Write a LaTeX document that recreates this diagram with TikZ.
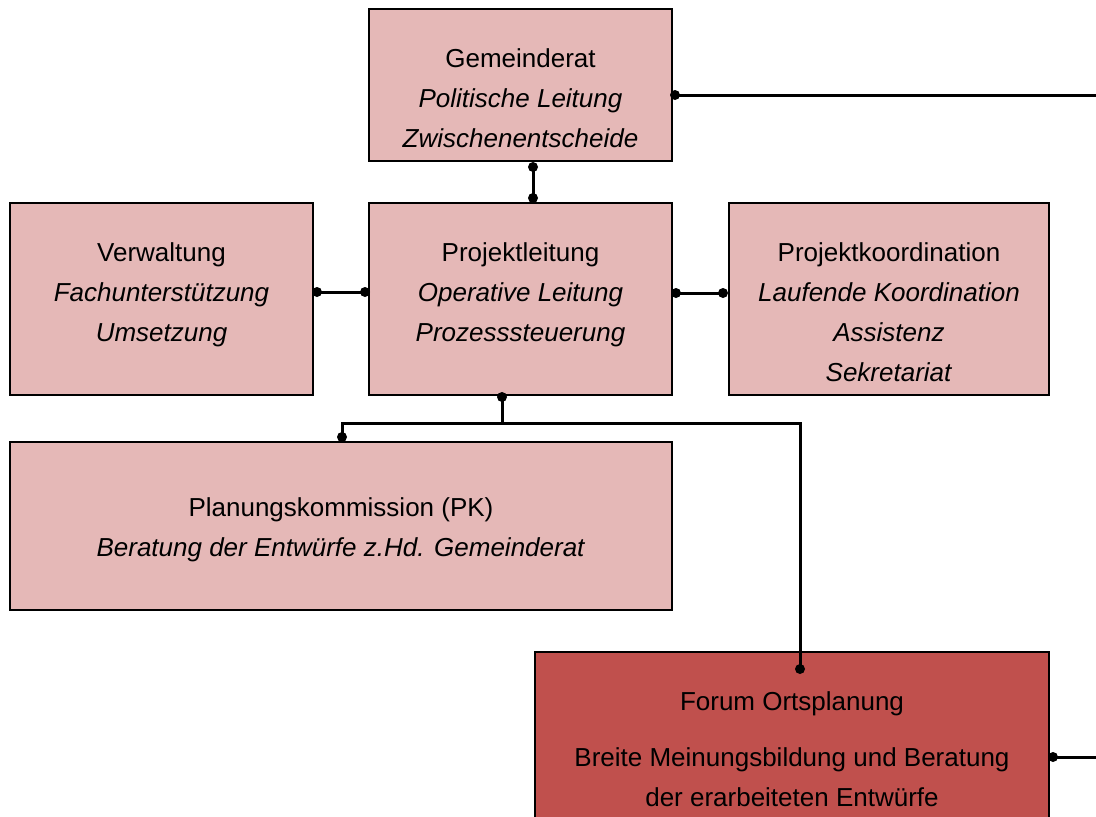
\documentclass[tikz,border=0pt]{standalone}
\usepackage{fontspec}
\setmainfont{Liberation Sans}
\definecolor{pinkbox}{HTML}{E5B8B7}
\definecolor{forumred}{HTML}{C0504D}
\begin{document}
\begin{tikzpicture}[x=1pt,y=-1pt,
  box/.style={draw=black,line width=2.7pt,fill=pinkbox,anchor=north west,inner sep=0pt,outer sep=0pt},
  txt/.style={align=center,inner sep=0pt,font=\fontsize{26}{40}\selectfont},
  conn/.style={line width=3pt},
  dotc/.style={fill=black}]
\useasboundingbox (0,0) rectangle (1096,817);
\clip (0,0) rectangle (1096,817);
% boxes
\node[box,minimum width=303pt,minimum height=152pt] (gr) at (369,9) {};
\node[box,minimum width=303pt,minimum height=192pt] (pl) at (369,203) {};
\node[box,minimum width=303pt,minimum height=192pt] (vw) at (10,203) {};
\node[box,minimum width=320pt,minimum height=192pt] (pk) at (729,203) {};
\node[box,minimum width=662pt,minimum height=168pt] (kom) at (10,442) {};
\node[box,fill=forumred,minimum width=514pt,minimum height=190pt] (fo) at (535,652) {};
% texts
\node[txt] (grt) at (520.5,98) {Gemeinderat\\\textit{Politische Leitung}\\\textit{Zwischenentscheide}};
\node[txt] (plt) at (520.5,295) {Projektleitung\\\textit{Operative Leitung}\\\textit{Prozesssteuerung}};
\node[txt] (vwt) at (161.5,295) {Verwaltung\\\textit{Fachunterstützung}\\\textit{Umsetzung}};
\node[txt] (pkt) at (889,312) {Projektkoordination\\\textit{Laufende Koordination}\\\textit{Assistenz}\\\textit{Sekretariat}};
\node[txt] (komt) at (341,530) {Planungskommission (PK)\\\textit{Beratung der Entwürfe z.Hd. Gemeinderat}};
\node[txt] (fot1) at (792,704) {Forum Ortsplanung};
\node[txt] (fot2) at (792,777) {Breite Meinungsbildung und Beratung\\der erarbeiteten Entwürfe};
% connector points
\coordinate (g1) at ([xshift=3pt,yshift=-86pt]gr.north east);
\coordinate (gE) at (1096,95);
\coordinate (g2) at ([xshift=12.5pt,yshift=-6pt]gr.south);
\coordinate (p0) at ([xshift=12.5pt,yshift=5pt]pl.north);
\coordinate (v1) at ([xshift=4pt,yshift=7pt]vw.east);
\coordinate (p1) at ([xshift=-4pt,yshift=7pt]pl.west);
\coordinate (p2) at ([xshift=4pt,yshift=6pt]pl.east);
\coordinate (k1) at ([xshift=-6pt,yshift=6pt]pk.west);
\coordinate (p3) at ([xshift=-18.5pt,yshift=-2pt]pl.south);
\coordinate (m1) at ([xshift=1pt,yshift=5pt]kom.north);
\coordinate (f1) at ([xshift=8pt,yshift=-17pt]fo.north);
\coordinate (f2) at (1053,757);
\coordinate (fE) at (1096,757);
% connectors
\draw[conn] (g1) -- (gE);
\draw[conn] (g2) -- (p0);
\draw[conn] (v1) -- (p1);
\draw[conn] (p2) -- (k1);
\draw[conn] (p3) -- ++(0,26) coordinate (j) -| (m1);
\draw[conn] (j) -| (f1);
\draw[conn] (f2) -- (fE);
% dots
\foreach \c in {g1,g2,p0,v1,p1,p2,k1,p3,m1,f1,f2}
  \fill[dotc] (\c) circle (5pt);
\end{tikzpicture}
\end{document}
